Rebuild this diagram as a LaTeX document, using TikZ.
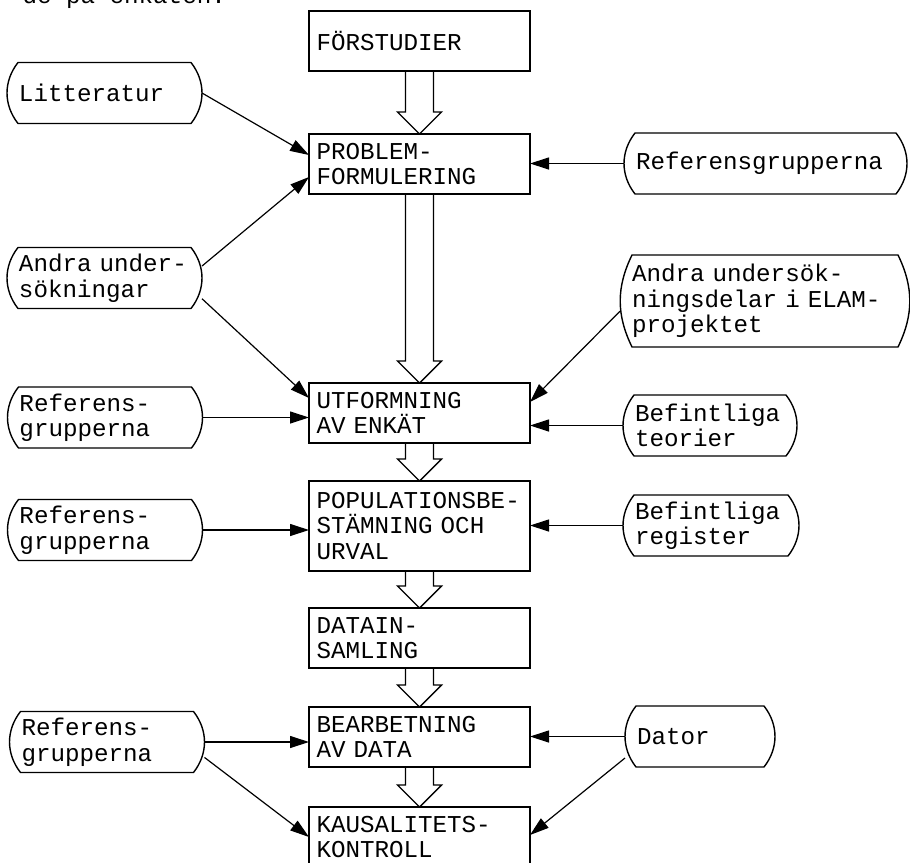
\documentclass[tikz,border=0pt]{standalone}
\usepackage{fontspec}
\setmainfont{Liberation Mono}
\usetikzlibrary{arrows.meta,calc}

\tikzset{
  stage/.style={draw, rectangle, line width=1.4pt, outer sep=0pt,
    minimum width=221pt, minimum height=60pt, inner xsep=7.5pt,
    text width=206pt, align=left},
  source/.style={rectangle, outer sep=0pt, minimum height=61pt,
    inner xsep=12pt, inner ysep=4pt, text width=#1, align=left},
  outline/.style={line width=1.4pt, line join=round},
  feed/.style={line width=1.2pt, -{Triangle[length=19pt,width=12pt]}},
  hollow/.style={line width=1.4pt}
}

\begin{document}
\begin{tikzpicture}[x=1pt,y=1pt,font=\fontsize{24.2}{25.5}\selectfont]
\useasboundingbox (0,0) rectangle (910,-862);

\node[anchor=base west] (spill) at (19,-3) {de på enkäten.};

\node[stage] (forstudier) at (419.5,-41) {FÖRSTUDIER};
\node[stage] (problem) at (419.5,-164) {PROBLEM-\\FORMULERING};
\node[stage] (utformning) at (419.5,-413) {UTFORMNING\\AV ENKÄT};
\node[stage, minimum height=90pt] (population) at (419.5,-526)
  {POPULATIONSBE-\\STÄMNING OCH\\URVAL};
\node[stage] (datain) at (419.5,-638) {DATAIN-\\SAMLING};
\node[stage] (bearbetning) at (419.5,-737) {BEARBETNING\\AV DATA};
\node[stage] (kausalitet) at (419.5,-837) {KAUSALITETS-\\KONTROLL};

\node[source=171pt] (litteratur) at (104.5,-93) {Litteratur};
\node[source=171pt] (andraL) at (104.5,-278) {Andra~under-\\sökningar};
\node[source=171pt] (ref1) at (105,-417.5) {Referens-\\grupperna};
\node[source=171pt] (ref2) at (105,-530) {Referens-\\grupperna};
\node[source=171pt] (ref3) at (107,-742) {Referens-\\grupperna};

\node[source=259pt] (refgrupp) at (765.5,-163.5) {Referensgrupperna};
\node[source=266pt, minimum height=92pt] (andraR) at (765,-301)
  {Andra undersök-\\ningsdelar i ELAM-\\projektet};
\node[source=150pt] (teorier) at (710,-425.5) {Befintliga\\teorier};
\node[source=152pt] (register) at (711,-525.5) {Befintliga\\register};
\node[source=126pt] (dator) at (700,-736.5) {Dator};

\foreach \n in {litteratur, andraL, ref1, ref2, ref3, refgrupp, teorier,
  register, dator}
\draw[outline] ($(\n.north west)+(11,0)$) -- ($(\n.north east)+(-11,0)$)
  to[bend left=38] ($(\n.south east)+(-11,0)$) -- ($(\n.south west)+(11,0)$)
  to[bend left=38] ($(\n.north west)+(11,0)$) -- cycle;

\draw[outline] ($(andraR.north west)+(12,0)$) -- ($(andraR.north east)+(-12,0)$)
  to[bend left=26] ($(andraR.south east)+(-12,0)$) -- ($(andraR.south west)+(12,0)$)
  to[bend left=26] ($(andraR.north west)+(12,0)$) -- cycle;

\foreach \a/\b in {forstudier/problem, problem/utformning,
  utformning/population, population/datain, datain/bearbetning,
  bearbetning/kausalitet}
\draw[hollow] ($(\a.south)+(-14,0)$) -- ($(\b.north)+(-14,22)$) -- ++(-8,0)
  -- (\b.north) -- ++(22,22) -- ++(-8,0) -- ($(\a.south)+(14,0)$);

\foreach \s/\t in {ref1/utformning, ref2/population, ref3/bearbetning}
\draw[feed] (\s.east) -- (\s.east -| \t.west);

\foreach \s/\t in {refgrupp/problem, teorier/utformning,
  register/population, dator/bearbetning}
\draw[feed] (\s.west) -- (\s.west -| \t.east);

\draw[feed] (litteratur.east) -- ($(problem.north west)+(0,-21)$);
\draw[feed] (andraL.7) -- ($(problem.south west)+(0,17)$);
\draw[feed] (andraL.-12) -- ($(utformning.north west)+(0,-15)$);
\draw[feed] (ref3.-9) -- ($(kausalitet.north west)+(0,-30)$);
\draw[feed] (andraR.184) -- ($(utformning.north east)+(0,-19)$);
\draw[feed] (dator.196) -- ($(kausalitet.north east)+(0,-28)$);
\end{tikzpicture}
\end{document}
